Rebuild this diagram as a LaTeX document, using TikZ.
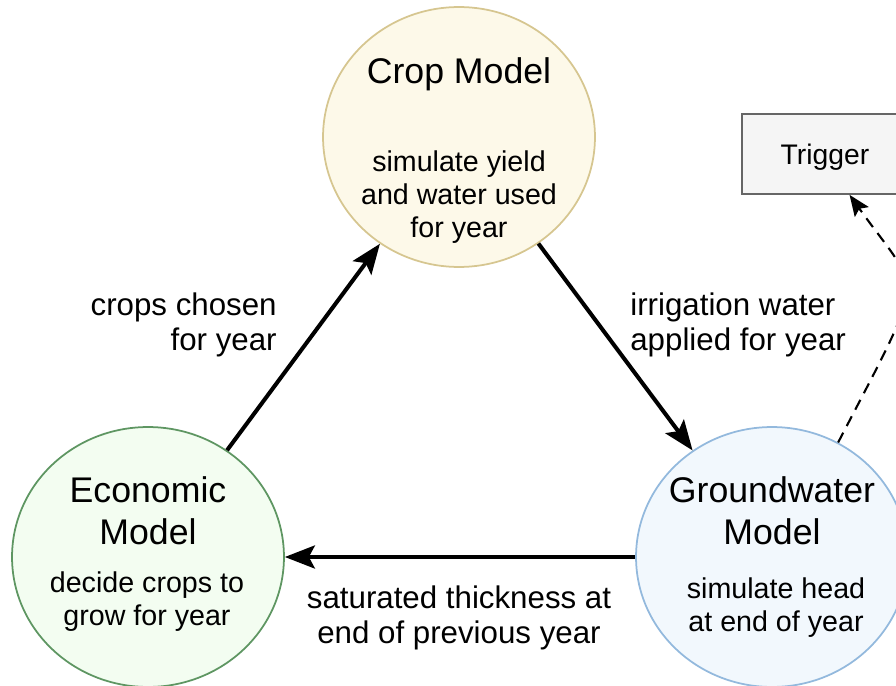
\documentclass[tikz,border=0pt]{standalone}
\usepackage{fontspec}
\setmainfont{Liberation Sans}
\usetikzlibrary{arrows.meta,shapes.geometric}
\definecolor{cropfill}{HTML}{FDF9E9}
\definecolor{cropline}{HTML}{D6C690}
\definecolor{econfill}{HTML}{F3FDF1}
\definecolor{econline}{HTML}{5E9662}
\definecolor{gwfill}{HTML}{F2F8FD}
\definecolor{gwline}{HTML}{93B9DD}
\definecolor{trigfill}{HTML}{F5F5F5}
\definecolor{trigline}{HTML}{666666}

\begin{document}
\begin{tikzpicture}
[x=0.02cm,y=-0.02cm
,model/.style={ellipse,draw,line width=1pt,minimum width=5.44cm,minimum height=5.2cm,inner sep=0pt}
,cropm/.style={model,fill=cropfill,draw=cropline}
,econm/.style={model,fill=econfill,draw=econline}
,gwm/.style={model,fill=gwfill,draw=gwline}
,ttl/.style={inner sep=0pt,align=center,font=\fontsize{20.3}{23.9}\selectfont}
,desc/.style={inner sep=0pt,align=center,font=\fontsize{16.3}{18.8}\selectfont}
,lbl/.style={inner sep=0pt,font=\fontsize{17.8}{19.8}\selectfont}
,trigbox/.style={draw=trigline,fill=trigfill,line width=1pt,minimum width=3.32cm,minimum height=1.6cm,text depth=0pt,font=\fontsize{16.1}{18.8}\selectfont}
,flow/.style={line width=2.3pt,arrows={-Stealth[length=0.6cm,width=0.46cm,inset=0.12cm]}}
,dflow/.style={line width=1.2pt,dash pattern=on 0.22cm off 0.15cm,arrows={-Stealth[length=0.42cm,width=0.34cm,inset=0.08cm]}}
]
\useasboundingbox (0,0) rectangle (896,686);
\clip (0,0) rectangle (896,686);
% models
\node[cropm] (crop) at (459,137) {};
\node[econm] (econ) at (148,557) {};
\node[gwm] (gw) at (772,557) {};
\node[trigbox] (trg) at (825,154) {Trigger};
% texts inside the models
\node[ttl] (cropT) at (459,74) {Crop Model};
\node[desc] (cropD) at (459,197) {simulate yield\\and water used\\for year};
\node[ttl] (econT) at (148,511) {Economic\\Model};
\node[desc] (econD) at (147,602) {decide crops to\\grow for year};
\node[ttl] (gwT) at (772,511) {Groundwater\\Model};
\node[desc] (gwD) at (776,608) {simulate head\\at end of year};
% flows
\draw[flow] (econ) -- (crop);
\draw[flow] (crop) -- (gw);
\draw[flow] (gw) -- (econ);
\draw[dflow] (gw.60) .. controls +(91,-175) and +(72,101) .. (trg.-59);
% flow labels
\node[lbl,anchor=east,align=right] (chosen) at (277,325) {crops chosen\\for year};
\node[lbl,anchor=west,align=left] (irrig) at (630,325) {irrigation water\\applied for year};
\node[lbl,align=center] (satur) at (459,618) {saturated thickness at\\end of previous year};
\end{tikzpicture}
\end{document}
